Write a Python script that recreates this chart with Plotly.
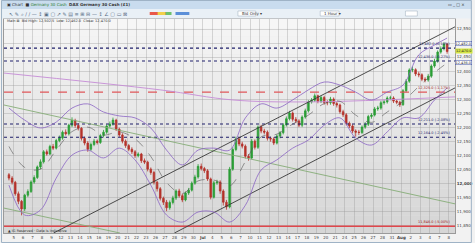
import plotly.graph_objects as go

# ---------------- data ----------------
candle_idx = list(range(140))
opens = [12030, 12018, 12003, 11962, 11935, 11908, 11957, 11970, 12004, 12020,
         12058, 12076, 12112, 12104, 12131, 12125, 12152, 12161, 12182, 12176,
         12207, 12224, 12206, 12196, 12160, 12143, 12121, 12138, 12150, 12145,
         12170, 12182, 12204, 12211, 12225, 12193, 12172, 12150, 12134, 12121,
         12112, 12098, 12104, 12080, 12075, 12050, 12038, 12003, 11980, 11946,
         11932, 11912, 11931, 11947, 11972, 11955, 11940, 11965, 11975, 12000,
         12022, 12060, 12052, 12044, 12015, 11950, 12001, 12004, 11972, 11932,
         11915, 12050, 12120, 12158, 12140, 12132, 12096, 12090, 12150, 12128,
         12200, 12186, 12182, 12160, 12158, 12143, 12168, 12180, 12208, 12230,
         12250, 12228, 12222, 12207, 12236, 12258, 12290, 12296, 12312, 12292,
         12306, 12288, 12287, 12300, 12284, 12279, 12255, 12244, 12214, 12204,
         12186, 12182, 12181, 12200, 12210, 12238, 12243, 12265, 12268, 12287,
         12290, 12304, 12304, 12293, 12289, 12280, 12330, 12364, 12404, 12405,
         12390, 12387, 12371, 12368, 12382, 12418, 12436, 12468, 12480, 12496]
closes = [12018, 12003, 11962, 11935, 11908, 11957, 11970, 12004, 12020, 12058,
          12076, 12112, 12104, 12131, 12125, 12152, 12161, 12182, 12176, 12207,
          12224, 12206, 12196, 12160, 12143, 12121, 12138, 12150, 12145, 12170,
          12182, 12204, 12211, 12225, 12193, 12172, 12150, 12134, 12121, 12112,
          12098, 12104, 12080, 12075, 12050, 12038, 12003, 11980, 11946, 11932,
          11912, 11931, 11947, 11972, 11955, 11940, 11965, 11975, 12000, 12022,
          12060, 12052, 12044, 12015, 11950, 12001, 12004, 11972, 11932, 11915,
          12050, 12120, 12158, 12140, 12132, 12096, 12090, 12150, 12128, 12200,
          12186, 12182, 12160, 12158, 12143, 12168, 12180, 12208, 12230, 12250,
          12228, 12222, 12207, 12236, 12258, 12290, 12296, 12312, 12292, 12306,
          12288, 12287, 12300, 12284, 12279, 12255, 12244, 12214, 12204, 12186,
          12182, 12181, 12200, 12210, 12238, 12243, 12265, 12268, 12287, 12290,
          12304, 12304, 12293, 12289, 12280, 12330, 12364, 12404, 12405, 12390,
          12387, 12371, 12368, 12382, 12418, 12436, 12468, 12480, 12496, 12470]
highs = [12036, 12025, 12008, 11970, 11940, 11962, 11978, 12010, 12028, 12063,
         12085, 12118, 12120, 12137, 12140, 12158, 12170, 12188, 12192, 12212,
         12235, 12230, 12214, 12200, 12166, 12150, 12145, 12158, 12156, 12176,
         12190, 12210, 12220, 12234, 12230, 12198, 12178, 12156, 12140, 12128,
         12118, 12110, 12108, 12088, 12080, 12056, 12044, 12008, 11986, 11952,
         11940, 11938, 11955, 11978, 11980, 11962, 11970, 11983, 12006, 12030,
         12068, 12070, 12058, 12050, 12020, 12008, 12012, 12010, 11978, 11940,
         12058, 12128, 12166, 12164, 12148, 12138, 12104, 12158, 12156, 12206,
         12208, 12194, 12188, 12166, 12164, 12174, 12186, 12214, 12238, 12258,
         12256, 12236, 12228, 12242, 12266, 12296, 12304, 12320, 12316, 12312,
         12312, 12296, 12308, 12306, 12290, 12284, 12262, 12250, 12220, 12210,
         12192, 12190, 12206, 12218, 12244, 12250, 12272, 12276, 12294, 12298,
         12310, 12312, 12310, 12298, 12294, 12336, 12372, 12410, 12416, 12410,
         12398, 12392, 12378, 12390, 12424, 12444, 12474, 12488, 12502, 12500]
lows = [12010, 11995, 11955, 11925, 11885, 11900, 11950, 11965, 11998, 12015,
        12050, 12070, 12098, 12100, 12118, 12120, 12146, 12155, 12170, 12170,
        12200, 12198, 12188, 12152, 12135, 12112, 12115, 12132, 12138, 12140,
        12163, 12176, 12198, 12205, 12186, 12165, 12142, 12126, 12114, 12104,
        12090, 12092, 12072, 12068, 12042, 12030, 11995, 11970, 11938, 11922,
        11900, 11905, 11924, 11940, 11948, 11932, 11935, 11958, 11970, 11994,
        12016, 12045, 12036, 12008, 11942, 11945, 11994, 11962, 11920, 11905,
        11910, 12044, 12114, 12132, 12124, 12088, 12080, 12085, 12120, 12122,
        12178, 12174, 12152, 12148, 12136, 12138, 12160, 12174, 12202, 12224,
        12220, 12214, 12200, 12200, 12230, 12252, 12284, 12290, 12285, 12286,
        12280, 12278, 12280, 12276, 12270, 12248, 12236, 12206, 12196, 12178,
        12166, 12172, 12175, 12194, 12204, 12230, 12238, 12258, 12262, 12280,
        12284, 12296, 12286, 12282, 12272, 12276, 12324, 12358, 12396, 12382,
        12378, 12364, 12360, 12362, 12376, 12412, 12430, 12462, 12474, 12462]

bb_idx = [0, 5, 10, 15, 20, 25, 30, 35, 40, 45, 50, 55, 60, 65, 70, 75, 80, 85,
          90, 95, 100, 105, 110, 115, 120, 125, 130, 135, 139]
bb_upper = [12268, 12225, 12197, 12218, 12268, 12283, 12254, 12240, 12233, 12197,
            12118, 12065, 12118, 12125, 12118, 12233, 12283, 12268, 12297, 12333,
            12361, 12350, 12325, 12297, 12325, 12350, 12458, 12493, 12518]
bb_mid = [12131, 12056, 12050, 12118, 12184, 12200, 12172, 12183, 12158, 12095,
          12002, 11963, 12008, 12011, 11990, 12077, 12165, 12175, 12211, 12243,
          12284, 12292, 12243, 12217, 12254, 12292, 12345, 12395, 12429]
bb_lower = [11993, 11886, 11904, 12018, 12100, 12118, 12090, 12125, 12083, 11993,
            11886, 11861, 11897, 11897, 11861, 11921, 12047, 12083, 12125, 12154,
            12207, 12233, 12161, 12136, 12183, 12233, 12233, 12297, 12340]

ma_idx = [-1.6, 48, 71, 95, 141.5]
ma_vals = [12393, 12333, 12297, 12290, 12308]

green_line_idx = [-1.6, 141.5]
green_line_vals = [12279, 11926]
green_line2_idx = [-1.6, 35.2]
green_line2_vals = [11911, 11822]
channel_up_idx = [14.15, 141.5]
channel_up_vals = [11822, 12558]
channel_low_idx = [52.5, 141.5]
channel_low_vals = [11822, 12340]

dotted_levels = [12482, 12436, 12211, 12164]
dotted_labels = ["12,482.0 (0.10%)", "12,436.0 (-0.27%)", "12,211.0 (-2.08%)", "12,164.0 (-2.45%)"]
red_dashed_level = 12325
red_solid_level = 11846

ytick_vals = [11850, 11900, 11950, 12000, 12050, 12100, 12150, 12200, 12250,
              12300, 12350, 12400, 12450, 12500, 12550]
ytick_text = ["11,850", "11,900", "11,950", "<b>12,000</b>", "12,050", "12,100", "12,150",
              "12,200", "12,250", "12,300", "12,350", "12,400", "12,450", "12,500", "12,550"]
xtick_text = ["5", "6", "7", "8", "9", "12", "13", "14", "15", "16", "19", "20", "21",
              "22", "23", "26", "27", "28", "29", "30", "<b>Jul</b>",
              "4", "5", "6", "7", "10", "11", "12", "13", "14", "17", "18", "19", "20",
              "21", "24", "25", "26", "27", "28", "31", "<b>Aug</b>",
              "2", "3", "4", "7", "8"]
xtick_vals = [1.5 + 3 * k for k in range(len(xtick_text))]

X0, X1 = -1.57, 141.5
Y0, Y1 = 11822, 12586

# ---------------- layout helpers (decoration only) ----------------
W, H = 475, 243
ML, MR, MT, MB = 3, 17, 19, 10
PW, PH = W - ML - MR, H - MT - MB


def xp(px):
    return (px - ML) / PW


def yp(py):
    return (H - MB - py) / PH


fig = go.Figure()

# horizontal levels
for lv in dotted_levels:
    fig.add_trace(go.Scatter(x=[X0, X1], y=[lv, lv], mode="lines",
                             line=dict(color="#1f1f6b", width=1.15, dash="dot"),
                             hoverinfo="skip", showlegend=False))
fig.add_trace(go.Scatter(x=[X0, X1], y=[red_dashed_level] * 2, mode="lines",
                         line=dict(color="#e0575a", width=1.2, dash="dash"),
                         hoverinfo="skip", showlegend=False))
fig.add_trace(go.Scatter(x=[X0, X1], y=[red_solid_level] * 2, mode="lines",
                         line=dict(color="#e0474c", width=1.4),
                         hoverinfo="skip", showlegend=False))

# trend / channel lines
for xs, ys, col in [(ma_idx, ma_vals, "#c58bd6"),
                    (green_line_idx, green_line_vals, "#86ad77"),
                    (green_line2_idx, green_line2_vals, "#86ad77"),
                    (channel_up_idx, channel_up_vals, "#3a3a3a"),
                    (channel_low_idx, channel_low_vals, "#3a3a3a")]:
    fig.add_trace(go.Scatter(x=xs, y=ys, mode="lines",
                             line=dict(color=col, width=0.9, shape="spline"),
                             hoverinfo="skip", showlegend=False))

# Bollinger bands
fig.add_trace(go.Scatter(x=bb_idx, y=bb_upper, mode="lines",
                         line=dict(color="#8a63c4", width=0.8, shape="spline"),
                         hoverinfo="skip", showlegend=False))
fig.add_trace(go.Scatter(x=bb_idx, y=bb_lower, mode="lines",
                         line=dict(color="#8a63c4", width=0.8, shape="spline"),
                         hoverinfo="skip", showlegend=False))
fig.add_trace(go.Scatter(x=bb_idx, y=bb_mid, mode="lines",
                         line=dict(color="#555555", width=0.6, dash="dash", shape="spline"),
                         hoverinfo="skip", showlegend=False))

# candles
fig.add_trace(go.Candlestick(x=candle_idx, open=opens, high=highs, low=lows, close=closes,
                             increasing=dict(line=dict(color="#2b9e36", width=0.8), fillcolor="#2b9e36"),
                             decreasing=dict(line=dict(color="#b5322b", width=0.8), fillcolor="#b5322b"),
                             whiskerwidth=0, showlegend=False))

shapes = []
# plot background gradient
n = 24
for i in range(n):
    t = i / (n - 1)
    g = int(214 + (246 - 214) * t)
    shapes.append(dict(type="rect", xref="paper", yref="paper", x0=0, x1=1,
                       y0=i / n, y1=(i + 1) / n, fillcolor=f"rgb({g},{g},{g})",
                       line=dict(width=0), layer="below"))
# title bar & toolbar
shapes.append(dict(type="rect", xref="paper", yref="paper", x0=xp(0), x1=xp(W),
                   y0=yp(9), y1=yp(0), fillcolor="#c9dcee", line=dict(width=0)))
shapes.append(dict(type="rect", xref="paper", yref="paper", x0=xp(0), x1=xp(W),
                   y0=yp(18.5), y1=yp(9), fillcolor="#e9f0f6", line=dict(width=0)))
# toolbar color swatches
for (a, b, c) in [(150, 168, "#e8584a"), (158, 166, "#f2d04a"), (166, 172, "#6cc16c"),
                  (176, 190, "#5b8fd8")]:
    shapes.append(dict(type="rect", xref="paper", yref="paper", x0=xp(a), x1=xp(b),
                       y0=yp(15), y1=yp(12), fillcolor=c, line=dict(width=0)))
# dropdowns
for (a, b) in [(239, 257), (322, 341), (408, 420)]:
    shapes.append(dict(type="rect", xref="paper", yref="paper", x0=xp(a), x1=xp(b),
                       y0=yp(16), y1=yp(11), fillcolor="#ffffff",
                       line=dict(width=0.5, color="#9aaabb")))
# window border
shapes.append(dict(type="rect", xref="paper", yref="paper", x0=xp(0.5), x1=xp(W - 0.5),
                   y0=yp(H - 0.5), y1=yp(0.5), line=dict(width=1, color="#9fb3c6")))

ann = []
f_small = dict(family="DejaVu Sans", size=4, color="#333333")
ann.append(dict(xref="paper", yref="paper", x=xp(4), y=yp(4.5), xanchor="left", yanchor="middle",
                text="▣ Chart  ■ <span style='color:#2a7a2a'>Germany 30 Cash</span>  <b>DAX Germany 30 Cash (£1)</b>",
                showarrow=False, font=f_small))
ann.append(dict(xref="paper", yref="paper", x=xp(6), y=yp(13.5), xanchor="left", yanchor="middle",
                text="↖ ✎ ⌕ ∕ ∕ — ↕ ▣ ▢ ↗ ✎ ▤ ≡ ⊞ ⊟ — ↕ ∠ ▢ ▭ ⊠",
                showarrow=False, font=dict(family="DejaVu Sans", size=5, color="#5a6f86")))
ann.append(dict(xref="paper", yref="paper", x=xp(241), y=yp(13.5), xanchor="left", yanchor="middle",
                text="Bid Only ▾", showarrow=False, font=f_small))
ann.append(dict(xref="paper", yref="paper", x=xp(324), y=yp(13.5), xanchor="left", yanchor="middle",
                text="1 Hour ▾", showarrow=False, font=f_small))
ann.append(dict(xref="paper", yref="paper", x=xp(470), y=yp(4.5), xanchor="right", yanchor="middle",
                text="▭ _ □ ×", showarrow=False, font=f_small))
ann.append(dict(xref="paper", yref="paper", x=xp(4), y=yp(21), xanchor="left", yanchor="middle",
                text="Main ⊠  Bid High: 12,502.5  Low: 12,462.0  Close: 12,470.0",
                showarrow=False, font=dict(family="DejaVu Sans", size=3.5, color="#333")))
ann.append(dict(xref="paper", yref="paper", x=xp(5), y=yp(230.5), xanchor="left", yanchor="middle",
                text="▲ IG Reserved · Data is indicative", showarrow=False,
                font=dict(family="DejaVu Sans", size=3.5, color="#333")))
# level labels
for lv, lab in zip(dotted_levels, dotted_labels):
    ann.append(dict(x=140.5, y=lv, xanchor="right", yanchor="bottom", text=lab, showarrow=False,
                    font=dict(family="DejaVu Sans", size=3.5, color="#1f1f6b")))
ann.append(dict(x=140.5, y=red_dashed_level, xanchor="right", yanchor="bottom",
                text="12,325.0 (-1.17%)", showarrow=False,
                font=dict(family="DejaVu Sans", size=3.5, color="#a02020")))
ann.append(dict(x=140.5, y=red_solid_level, xanchor="right", yanchor="bottom",
                text="11,846.0 (-5.00%)", showarrow=False,
                font=dict(family="DejaVu Sans", size=3.5, color="#a02020")))
# price tags on axis
ann.append(dict(xref="paper", x=1.0, y=closes[-1], xanchor="left", yanchor="middle",
                text="12,470.0", showarrow=False, bgcolor="#d6e645",
                font=dict(family="DejaVu Sans", size=3.5, color="#222"), borderpad=0))
ann.append(dict(xref="paper", x=1.0, y=dotted_levels[0] + 18, xanchor="left", yanchor="middle",
                text="12,482.0", showarrow=False, bgcolor="#ffffff", bordercolor="#3a4aa0",
                borderwidth=0.5, font=dict(family="DejaVu Sans", size=3.5, color="#222"), borderpad=0))
ann.append(dict(xref="paper", x=1.0, y=dotted_levels[1] - 6, xanchor="left", yanchor="middle",
                text="12,436.0", showarrow=False, bgcolor="#ffffff", bordercolor="#3a4aa0",
                borderwidth=0.5, font=dict(family="DejaVu Sans", size=3.5, color="#222"), borderpad=0))

fig.update_layout(
    width=W, height=H,
    margin=dict(l=ML, r=MR, t=MT, b=MB),
    paper_bgcolor="#f2f2f2", plot_bgcolor="#e6e6e6",
    shapes=shapes, annotations=ann,
    showlegend=False,
    xaxis=dict(range=[X0, X1], tickvals=xtick_vals, ticktext=xtick_text, tickangle=0,
               tickfont=dict(family="DejaVu Sans", size=4, color="#444"),
               showgrid=True, gridcolor="rgba(150,150,150,0.35)", gridwidth=0.6,
               zeroline=False, rangeslider=dict(visible=False), ticks="",
               showline=True, linecolor="#9a9a9a", mirror=True, ticklen=0),
    yaxis=dict(range=[Y0, Y1], side="right", tickvals=ytick_vals, ticktext=ytick_text,
               tickfont=dict(family="DejaVu Sans", size=4, color="#444"),
               showgrid=True, gridcolor="rgba(150,150,150,0.35)", gridwidth=0.6,
               zeroline=False, showline=True, linecolor="#9a9a9a", mirror=True, ticks=""),
)

fig.write_html("out.html")
